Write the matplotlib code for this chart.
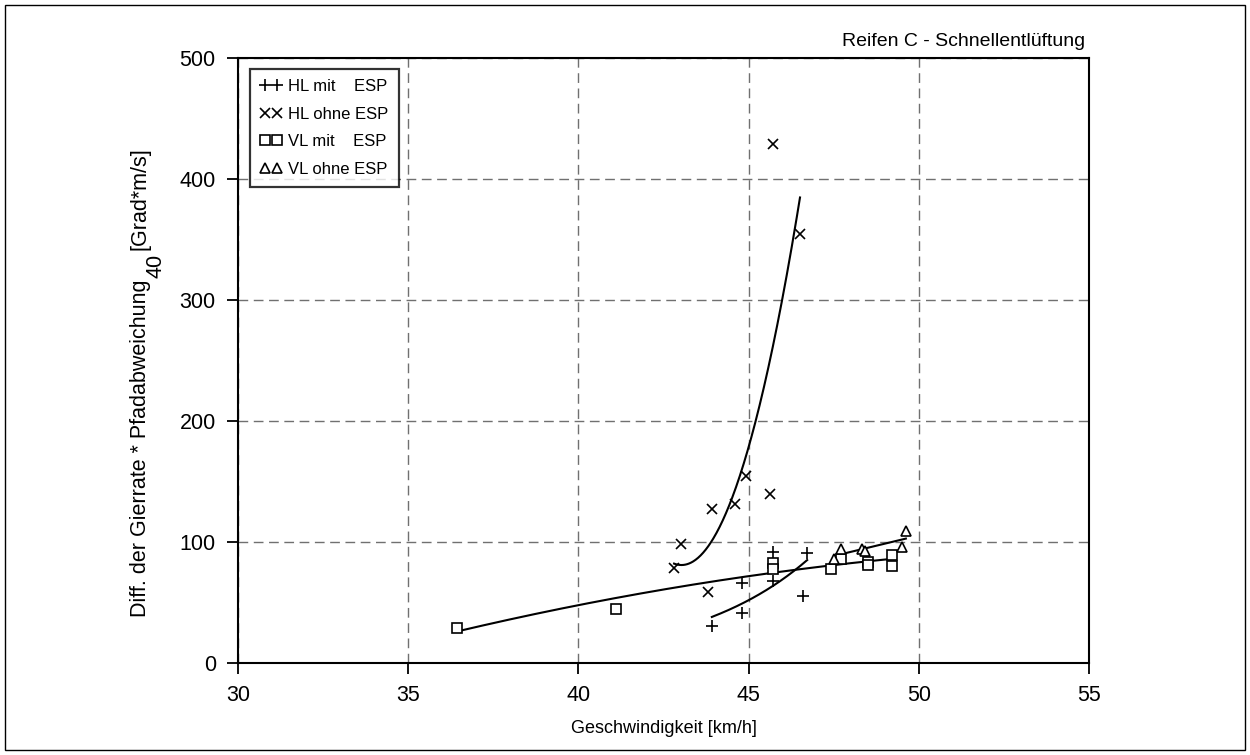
import numpy as np
import matplotlib
matplotlib.use("Agg")
import matplotlib.pyplot as plt
from matplotlib.patches import Rectangle

plt.rcParams['font.family'] = ['Liberation Sans', 'DejaVu Sans']

# Messwerte: Geschwindigkeit [km/h] und Diff. Gierrate * Pfadabweichung
hl_mit_v = [43.92, 44.81, 44.81, 45.72, 45.72, 46.72, 46.60]
hl_mit_y = [30.6, 41.3, 66.1, 91.7, 67.8, 90.9, 55.4]

hl_ohne_v = [42.81, 43.01, 43.81, 43.92, 44.60, 44.92, 45.63, 45.72, 46.51]
hl_ohne_y = [78.5, 98.3, 58.7, 127.3, 131.4, 154.5, 139.7, 429.0, 354.5]

vl_mit_v = [36.43, 41.10, 45.72, 45.72, 47.42, 47.71, 48.51, 48.51, 49.21, 49.21]
vl_mit_y = [28.9, 44.6, 82.6, 77.7, 77.7, 86.0, 83.5, 81.0, 89.3, 80.2]

vl_ohne_v = [47.51, 47.71, 48.33, 48.42, 49.51, 49.62]
vl_ohne_y = [86.0, 94.2, 94.2, 92.6, 96.0, 109.0]

x_ticks = [30, 35, 40, 45, 50, 55]
y_ticks = [0, 100, 200, 300, 400, 500]

fig = plt.figure(figsize=(12.5, 7.55), dpi=100)
ax = fig.add_axes([238 / 1250, 92 / 755, 851 / 1250, 605 / 755])

mk = dict(linestyle='none', color='black', markeredgewidth=1.2)
ax.plot(hl_mit_v, hl_mit_y, marker='+', markersize=8, label='HL mit    ESP', **mk)
ax.plot(hl_ohne_v, hl_ohne_y, marker='x', markersize=7, label='HL ohne ESP', **mk)
ax.plot(vl_mit_v, vl_mit_y, marker='s', markersize=7, markerfacecolor='white',
        label='VL mit    ESP', **mk)
ax.plot(vl_ohne_v, vl_ohne_y, marker='^', markersize=7, markerfacecolor='white',
        label='VL ohne ESP', **mk)


# Ausgleichskurven über den Bereich der jeweiligen Messpunkte
def trend(v, y, deg, expo=False):
    v = np.asarray(v)
    xs = np.linspace(v.min(), v.max(), 200)
    if expo:
        c = np.polyfit(v, np.log(y), 1)
        ys = np.exp(np.polyval(c, xs))
    else:
        c = np.polyfit(v, y, deg)
        ys = np.polyval(c, xs)
    ax.plot(xs, ys, color='black', linewidth=1.5, zorder=1)


trend(hl_mit_v, hl_mit_y, 1, expo=True)
trend(hl_ohne_v, hl_ohne_y, 2)
trend(vl_mit_v, vl_mit_y, 2)
trend(vl_ohne_v, vl_ohne_y, 1)

ax.set_xlim(30, 55)
ax.set_ylim(0, 500)
ax.set_xticks(x_ticks)
ax.set_yticks(y_ticks)
ax.tick_params(direction='out', length=8, width=1.3, labelsize=15.5, pad=8,
               top=False, right=False)
for s in ax.spines.values():
    s.set_linewidth(1.5)
ax.grid(True, color='#707070', linestyle=(0, (7, 4)), linewidth=1.0)
ax.set_axisbelow(True)

ax.set_xlabel('Geschwindigkeit [km/h]', fontsize=13, labelpad=10)
ax.text(0.9953, 1.02, 'Reifen C - Schnellentlüftung', transform=ax.transAxes,
        ha='right', va='baseline', fontsize=14)

leg = ax.legend(loc='upper left', numpoints=2, fontsize=12, frameon=True,
                fancybox=False, edgecolor='black', handlelength=1.3,
                handletextpad=0.4, borderpad=0.6, labelspacing=0.75,
                borderaxespad=0, bbox_to_anchor=(0.0141, 0.9818))
leg.get_frame().set_linewidth(1.6)

# y-Achsentitel mit tiefgestelltem Index in normaler Schriftgröße
W, H = 1250, 755
r = fig.canvas.get_renderer()
tk = dict(rotation=90, rotation_mode='anchor', ha='left', va='baseline', fontsize=15.5)
t1 = fig.text(146 / W, (755 - 617) / H, 'Diff. der Gierrate * Pfadabweichung', **tk)
top = t1.get_window_extent(r).y1
t2 = fig.text(162 / W, (top + 2) / H, '40', **tk)
top = t2.get_window_extent(r).y1
fig.text(146 / W, (top + 3) / H, '[Grad*m/s]', **tk)

fig.patches.append(Rectangle((0.004, 0.006), 0.992, 0.988, transform=fig.transFigure,
                             fill=False, edgecolor='black', linewidth=1.0))

fig.savefig('out.png', dpi=100)
